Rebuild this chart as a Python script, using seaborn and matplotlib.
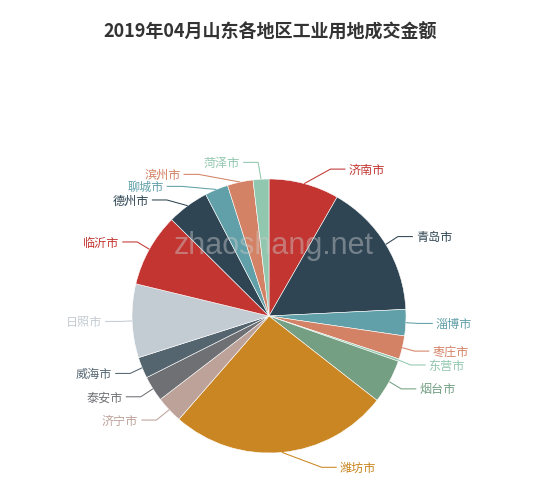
import numpy as np
import pandas as pd
import seaborn as sns
import matplotlib.pyplot as plt

# data (share of the pie, clockwise from 12 o'clock)
cities = ["济南市", "青岛市", "淄博市", "枣庄市", "东营市", "烟台市", "潍坊市", "济宁市",
          "泰安市", "威海市", "日照市", "临沂市", "德州市", "聊城市", "滨州市", "菏泽市"]
amounts = [29.8, 57.4, 11.2, 9.9, 1.0, 18.7, 93.1, 11.4,
           10.8, 9.0, 31.3, 31.1, 17.8, 9.9, 10.9, 6.7]
base_colors = ["#c23531", "#2f4554", "#61a0a8", "#d48265", "#91c7ae", "#749f83",
               "#ca8622", "#bda29a", "#6e7074", "#546570", "#c4ccd3"]
title = "2019年04月山东各地区工业用地成交金额"
watermark = "zhaoshang.net"

sns.set_theme(style="white")
plt.rcParams["font.family"] = ["Noto Sans CJK SC", "DejaVu Sans"]

W, H = 550, 490
CX, CY, R = 269, 316, 137
LEN1, LEN2 = 15, 15
LABEL_H = 12

df = pd.DataFrame({"city": cities, "amount": amounts})
palette = sns.color_palette(base_colors, n_colors=len(df))

fig = plt.figure(figsize=(W / 100, H / 100), dpi=100)
ax = fig.add_axes([0, 0, 1, 1])
wedges, _ = ax.pie(df["amount"], colors=palette, startangle=270, counterclock=True,
                   center=(CX, CY), radius=R,
                   wedgeprops=dict(edgecolor="white", linewidth=0.4))
ax.set_xlim(0, W)
ax.set_ylim(H, 0)
ax.axis("off")

# label layout, echarts style
layouts = []
for w, city, color in zip(wedges, df["city"], palette):
    t = np.deg2rad((w.theta1 + w.theta2) / 2)
    ux, uy = np.cos(t), np.sin(t)
    x2, y2 = CX + (R + LEN1) * ux, CY + (R + LEN1) * uy
    d = -1 if ux < 0 else 1
    x3 = x2 + d * LEN2
    layouts.append(dict(text=city, color=color, d=d, x=x3 + d * 5, y=y2,
                        p1=(CX + R * ux, CY + R * uy)))


def change_x(lst, is_down, d):
    last = np.inf if is_down else 0
    for it in lst:
        dy = abs(it["y"] - CY)
        if dy < R + LEN1:
            dx = np.sqrt((R + LEN1 + LEN2) ** 2 - dy ** 2)
        else:
            dx = abs(it["x"] - CX)
        if is_down and dx >= last:
            dx = last - 10
        if not is_down and dx <= last:
            dx = last + 10
        it["x"] = CX + dx * d
        last = dx


def adjust_side(items, d):
    items.sort(key=lambda it: it["y"])
    n = len(items)

    def shift_up(end, delta):
        for j in range(end, -1, -1):
            items[j]["y"] -= delta
            if j > 0 and items[j]["y"] > items[j - 1]["y"] + LABEL_H:
                break

    def shift_down(start, end, delta):
        for j in range(start, end):
            items[j]["y"] += delta
            if j > start and j + 1 < end and items[j + 1]["y"] > items[j]["y"] + LABEL_H:
                shift_up(j, delta / 2)
                return
        shift_up(end - 1, delta / 2)

    last_y = 0
    for i in range(n):
        delta = items[i]["y"] - last_y
        if delta < 0:
            shift_down(i, n, -delta)
        last_y = items[i]["y"] + LABEL_H
    if H - last_y < 0:
        shift_up(n - 1, last_y - H)
    change_x([it for it in items if it["y"] < CY], False, d)
    change_x([it for it in items if it["y"] >= CY], True, d)


adjust_side([l for l in layouts if l["d"] < 0], -1)
adjust_side([l for l in layouts if l["d"] > 0], 1)

for l in layouts:
    end_x = l["x"] - l["d"] * 3
    elbow_x = end_x - l["d"] * LEN2
    ax.plot([l["p1"][0], elbow_x, end_x], [l["p1"][1], l["y"], l["y"]],
            color=l["color"], lw=0.75, solid_capstyle="butt")
    ax.text(l["x"], l["y"] + 1, l["text"], color=l["color"], fontsize=8.7,
            ha="right" if l["d"] < 0 else "left", va="center")

ax.text(274, 246, watermark, fontsize=22, family=["Liberation Sans", "DejaVu Sans"],
        color="#cccccc", alpha=0.45, ha="center", va="center")
ax.text(W / 2 - 5, 32, title, fontsize=13, fontweight="bold", color="#333333",
        ha="center", va="center")

fig.savefig("out.png", dpi=100)
